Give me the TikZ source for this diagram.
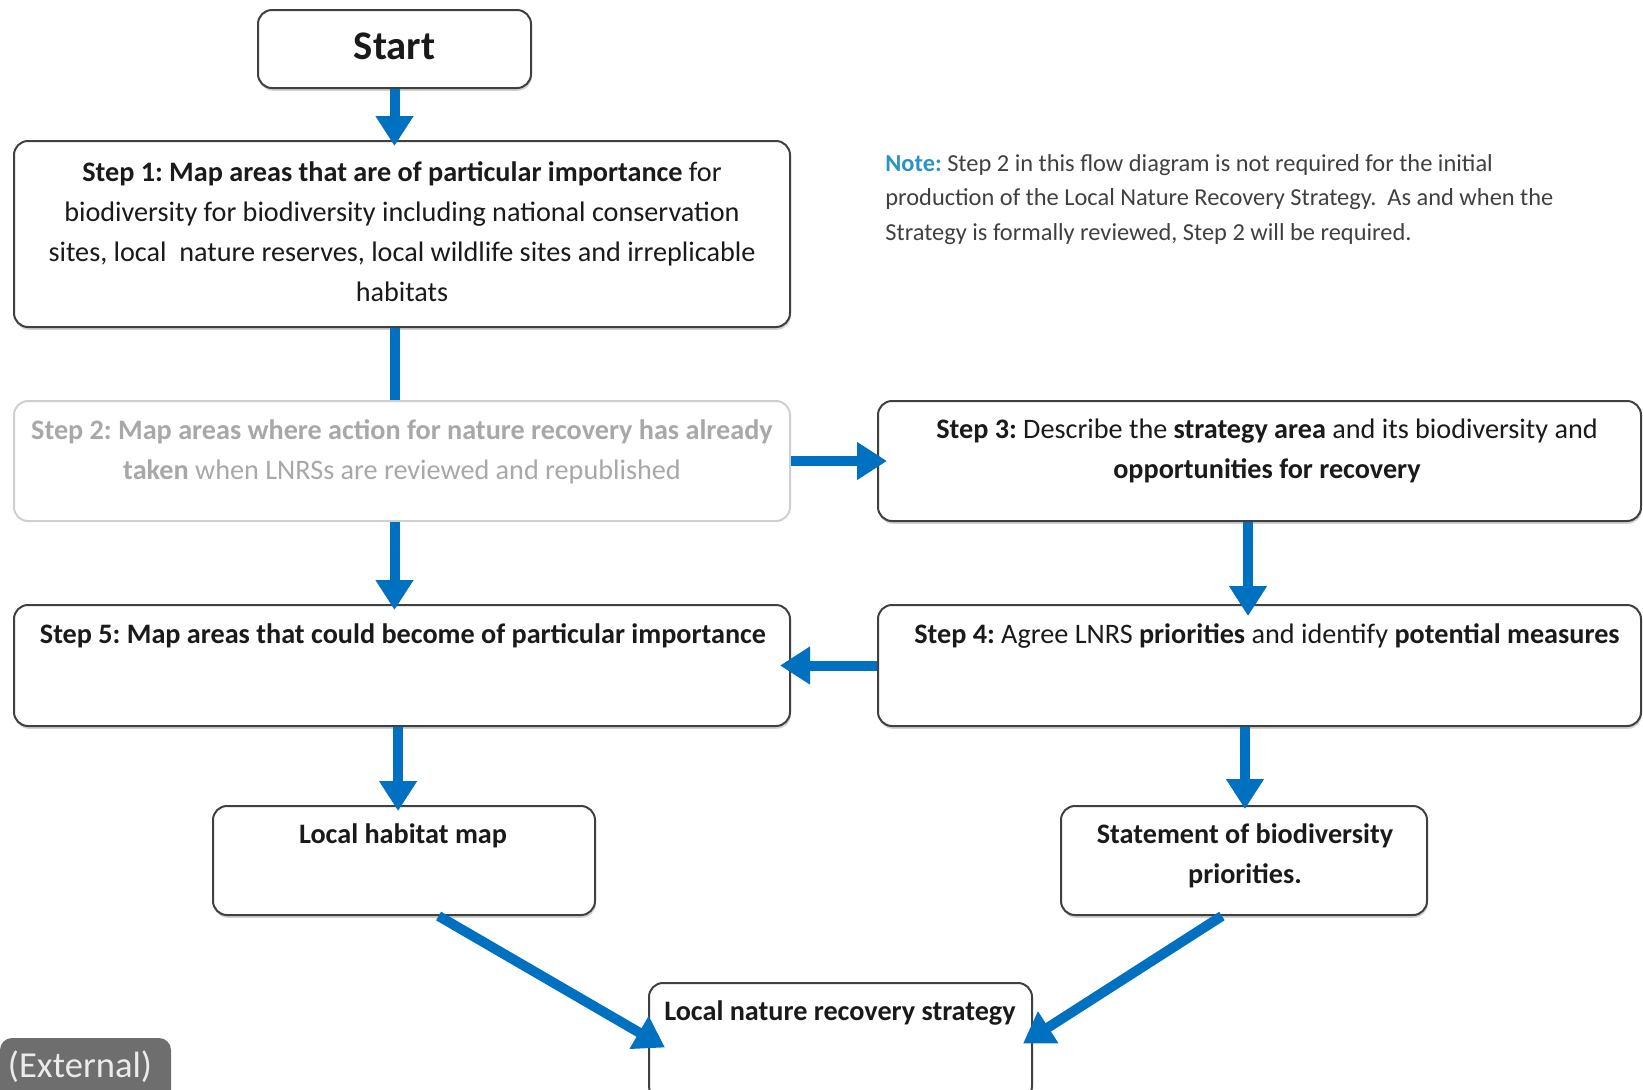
\documentclass[tikz,border=0pt]{standalone}
\usepackage{fontspec}
\setmainfont{Carlito}
\frenchspacing
\usetikzlibrary{arrows.meta,calc,shadows}
\definecolor{flowblue}{HTML}{0070C0}
\definecolor{boxgray}{HTML}{404040}
\definecolor{palegray}{HTML}{CFCFCF}
\definecolor{paletext}{HTML}{A8A8A8}
\definecolor{notecol}{HTML}{2A93C6}
\definecolor{inktext}{HTML}{1A1A1A}
\definecolor{extgray}{HTML}{6E6E6E}
\tikzset{
  stepbox/.style={draw=boxgray, line width=1pt, rounded corners=7pt, fill=white, inner sep=0pt,
    drop shadow={shadow xshift=0.4pt, shadow yshift=-1.4pt, opacity=0.3, fill=black!60}},
  palebox/.style={draw=palegray, line width=1pt, rounded corners=7pt, fill=white, inner sep=0pt},
  steptext/.style={inner sep=0pt, align=center, text=inktext, font=\fontsize{14.1}{20}\selectfont, anchor=north},
  boldtext/.style={steptext, font=\fontsize{14.1}{20}\selectfont\bfseries},
  flow/.style={draw=flowblue, line width=5pt, -{Triangle[width=18pt,length=15pt]}},
  flowline/.style={draw=flowblue, line width=5pt},
}
\begin{document}
\begin{tikzpicture}[x=0.5pt,y=-0.5pt]
\useasboundingbox (0,0) rectangle (1643,1089);
\begin{scope}
\clip (0,0) rectangle (1643,1089);
% boxes
\node[stepbox, minimum width=136.5pt, minimum height=39pt] (start) at (394.5,49) {};
\node[stepbox, minimum width=388pt, minimum height=93pt] (s1) at (402,234) {};
\node[palebox, minimum width=388pt, minimum height=60pt] (s2) at (402,461) {};
\node[stepbox, minimum width=381.5pt, minimum height=60pt] (s3) at (1259.5,461) {};
\node[stepbox, minimum width=388pt, minimum height=60.5pt] (s5) at (402,665.5) {};
\node[stepbox, minimum width=381.5pt, minimum height=60.5pt] (s4) at (1259.5,665.5) {};
\node[stepbox, minimum width=191pt, minimum height=54.5pt] (lhm) at (404,860.5) {};
\node[stepbox, minimum width=183pt, minimum height=54.5pt] (sbp) at (1244,860.5) {};
\node[stepbox, minimum width=191.5pt, minimum height=58.5pt] (lnrs) at (840.5,1041.5) {};

% texts
\node[inner sep=0pt, text=inktext, font=\fontsize{20.3}{22}\selectfont\bfseries] (tstart) at (394.5,46) {Start};
\node[steptext] (t1) at (402,161) {\textbf{Step 1: Map areas that are of particular importance} for\\
biodiversity for biodiversity including national conservation\\
sites, local\ \ nature reserves, local wildlife sites and irreplicable\\
habitats};
\node[steptext, text=paletext] (t2) at (402,419) {\textbf{Step 2: Map areas where action for nature recovery has already}\\
\textbf{taken} when LNRSs are reviewed and republished};
\node[steptext] (t3) at (1267,419) {\textbf{Step 3:} Describe the \textbf{strategy area} and its biodiversity and\\
\textbf{opportunities for recovery}};
\node[steptext] (t5) at (403,623) {\textbf{Step 5: Map areas that could become of particular importance}};
\node[steptext] (t4) at (1267,623) {\textbf{Step 4:} Agree LNRS \textbf{priorities} and identify \textbf{potential measures}};
\node[boldtext] (tl) at (403,823) {Local habitat map};
\node[boldtext] (ts) at (1245,823) {Statement of biodiversity\\priorities.};
\node[boldtext] (tn) at (840,1000) {Local nature recovery strategy};

\node[inner sep=0pt, align=left, anchor=north west, text=boxgray, font=\fontsize{12.2}{17.3}\selectfont] (note) at (885,154)
{\textcolor{notecol}{\textbf{Note:}}\ Step 2 in this flow diagram is not required for the initial\\
production of the Local Nature Recovery Strategy.\ \ As and when the\\
Strategy is formally reviewed, Step 2 will be required.};

% external tag
\node[fill=extgray, rounded corners=6pt, minimum width=85.5pt, minimum height=34pt, inner sep=0pt] (ext) at (85.5,1072) {};
\node[inner sep=0pt, text=white!92!black, font=\fontsize{18.3}{20}\selectfont] (text) at (80,1067) {(External)};

% connectors
\draw[flow] (start.south) -- ([yshift=-3pt]start.south |- s1.north);
\draw[flowline] (start.south |- s1.south) -- (start.south |- s2.north);
\draw[flow] (start.south |- s2.south) -- ([yshift=-3pt]start.south |- s5.north);
\draw[flow] (s2.east) -- ([xshift=5pt]s3.west);
\coordinate (c34) at ($(s3.south west)!0.485!(s3.south east)$);
\draw[flow] (c34) -- ([yshift=-6pt]c34 |- s4.north);
\draw[flow] (s4.west) -- ([xshift=-5.5pt]s5.east);
\coordinate (c5l) at ($(s5.south west)!0.495!(s5.south east)$);
\draw[flow] (c5l) -- ([yshift=-3pt]c5l |- lhm.north);
\coordinate (c4s) at ($(s4.south west)!0.481!(s4.south east)$);
\draw[flow] (c4s) -- ([yshift=-2pt]c4s |- sbp.north);
\coordinate (cl) at ($(lhm.south west)!0.59!(lhm.south east)$);
\coordinate (cln) at ($(lnrs.west)+(17,6)$);
\draw[flow] (cl) -- (cln);
\coordinate (cs) at ($(sbp.south west)!0.44!(sbp.south east)$);
\coordinate (csn) at ($(lnrs.east)+(-10,2)$);
\draw[flow] (cs) -- (csn);
\end{scope}
\end{tikzpicture}
\end{document}
